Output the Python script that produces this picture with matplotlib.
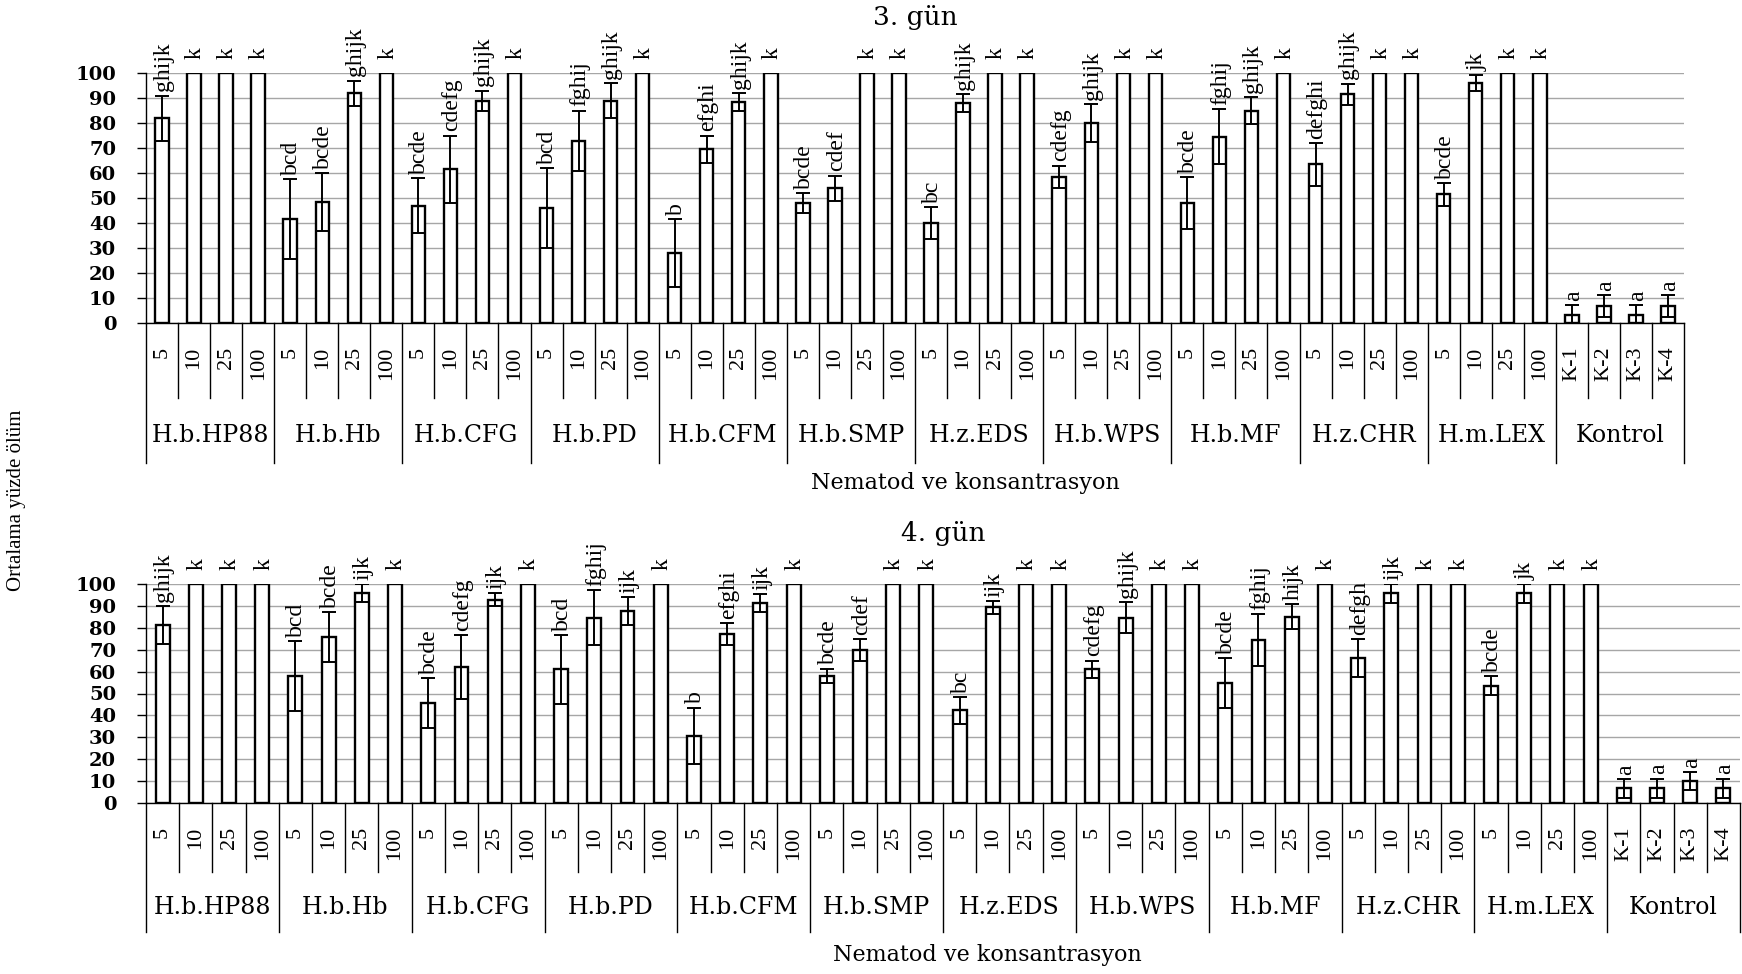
import numpy as np
import matplotlib
matplotlib.use('Agg')
from matplotlib import pyplot as plt

plt.rcParams['font.family'] = ['DejaVu Serif']

groups = ["H.b.HP88", "H.b.Hb", "H.b.CFG", "H.b.PD", "H.b.CFM", "H.b.SMP",
          "H.z.EDS", "H.b.WPS", "H.b.MF", "H.z.CHR", "H.m.LEX", "Kontrol"]
conc = ["5", "10", "25", "100"]
kontrol = ["K-1", "K-2", "K-3", "K-4"]
tick_labels = conc * 11 + kontrol

# 3. gun
gun3_mean = [82, 100, 100, 100,
             41.5, 48.5, 92, 100,
             47, 61.5, 89, 100,
             46, 73, 89, 100,
             28, 69.5, 88.5, 100,
             48, 54, 100, 100,
             40, 88, 100, 100,
             58.5, 80, 100, 100,
             48, 74.5, 85, 100,
             63.5, 91.5, 100, 100,
             51.5, 96, 100, 100,
             3.33, 6.67, 3.33, 6.67]
gun3_err = [9, 0, 0, 0,
            16, 11.5, 5, 0,
            11, 13.5, 4, 0,
            16, 12, 7, 0,
            13.5, 5.5, 3.5, 0,
            4, 5, 0, 0,
            6.5, 3.5, 0, 0,
            4.5, 7.5, 0, 0,
            10.5, 11, 5.5, 0,
            8.5, 4.3, 0, 0,
            4.5, 3.3, 0, 0,
            4, 4.4, 4, 4.4]
gun3_harf = ["ghijk", "k", "k", "k",
             "bcd", "bcde", "ghijk", "k",
             "bcde", "cdefg", "ghijk", "k",
             "bcd", "fghij", "ghijk", "k",
             "b", "efghi", "ghijk", "k",
             "bcde", "cdef", "k", "k",
             "bc", "ghijk", "k", "k",
             "cdefg", "ghijk", "k", "k",
             "bcde", "fghij", "ghijk", "k",
             "defghi", "ghijk", "k", "k",
             "bcde", "jk", "k", "k",
             "a", "a", "a", "a"]

# 4. gun
gun4_mean = [81.3, 100, 100, 100,
             58, 75.8, 96, 100,
             45.6, 62.2, 92.8, 100,
             61, 84.7, 87.7, 100,
             30.6, 77, 91.3, 100,
             58, 69.7, 100, 100,
             42.3, 89.3, 100, 100,
             61, 84.7, 100, 100,
             54.8, 74.4, 85.1, 100,
             66.3, 95.7, 100, 100,
             53.6, 95.7, 100, 100,
             6.67, 6.67, 10, 6.67]
gun4_err = [8.7, 0, 0, 0,
            16, 11.5, 4, 0,
            11.5, 14.5, 3, 0,
            15.8, 12.5, 6.5, 0,
            13, 5, 4, 0,
            3.4, 5, 0, 0,
            6, 3, 0, 0,
            4, 7, 0, 0,
            11.5, 11.7, 5.7, 0,
            8.7, 4.3, 0, 0,
            4.3, 4.3, 0, 0,
            4.2, 4.5, 4, 4.5]
gun4_harf = ["ghijk", "k", "k", "k",
             "bcd", "bcde", "ijk", "k",
             "bcde", "cdefg", "ijk", "k",
             "bcd", "fghij", "ijk", "k",
             "b", "efghi", "ijk", "k",
             "bcde", "cdef", "k", "k",
             "bc", "ijk", "k", "k",
             "cdefg", "ghijk", "k", "k",
             "bcde", "fghij", "hijk", "k",
             "defgh", "ijk", "k", "k",
             "bcde", "jk", "k", "k",
             "a", "a", "a", "a"]


def panel(ax, means, errs, harf, small_d, group_d, label_d):
    x = np.arange(len(means))
    means = np.array(means)
    errs = np.array(errs)
    ax.bar(x, means, width=0.42, color='white', edgecolor='black', linewidth=1.7, zorder=3)
    m = errs > 0
    ax.errorbar(x[m], means[m], yerr=errs[m], fmt='none', ecolor='black',
                elinewidth=1.4, capsize=4.8, capthick=1.4, zorder=4)

    ax.set_xlim(-0.5, len(means) - 0.5)
    ax.set_ylim(0, 100)
    ax.set_yticks(range(0, 101, 10))
    ax.yaxis.grid(True, color='#a6a6a6', lw=1.0)
    ax.set_axisbelow(True)
    for s in ['top', 'right']:
        ax.spines[s].set_visible(False)
    ax.spines['left'].set_linewidth(1.0)
    ax.spines['bottom'].set_linewidth(1.0)
    ax.tick_params(axis='y', direction='out', length=6.5, width=1, pad=15, labelsize=14)
    for lab in ax.get_yticklabels():
        lab.set_fontweight('bold')
    ax.set_xticks(x)
    ax.set_xticklabels(tick_labels, rotation=90, fontfamily='Liberation Serif', fontsize=16)
    ax.tick_params(axis='x', length=0, pad=17)

    # harfler
    for i in range(len(means)):
        top = means[i] + errs[i]
        off = 3 if errs[i] > 0 else 10
        ax.annotate(harf[i], (i, top), xytext=(1, off), textcoords='offset points',
                    rotation=90, ha='center', va='bottom', fontfamily='Liberation Serif',
                    fontsize=17, annotation_clip=False)

    # ayirici cizgiler
    trans = ax.get_xaxis_transform()
    for k in range(len(means) + 1):
        b = k - 0.5
        d = group_d if k % 4 == 0 else small_d
        ax.plot([b, b], [0, -d], transform=trans, color='black', lw=1.0, clip_on=False)
    for gi, g in enumerate(groups):
        ax.text(gi * 4 + 1.5, -label_d, g, transform=trans, ha='center', va='center', fontsize=17)


fig = plt.figure(figsize=(17.42, 9.74), dpi=100)
ax1 = fig.add_axes([146 / 1742, 1 - 323 / 974, (1684 - 146) / 1742, 250 / 974])
ax2 = fig.add_axes([146 / 1742, 1 - 803 / 974, (1740 - 146) / 1742, 219 / 974])

panel(ax1, gun3_mean, gun3_err, gun3_harf, 0.30, 0.56, 0.448)
panel(ax2, gun4_mean, gun4_err, gun4_harf, 0.315, 0.589, 0.479)

fig.text(915 / 1742, 1 - 17 / 974, "3. gün", ha='center', va='center', fontsize=19)
fig.text(943 / 1742, 1 - 533 / 974, "4. gün", ha='center', va='center', fontsize=19)
fig.text(965 / 1742, 1 - 483 / 974, "Nematod ve konsantrasyon", ha='center', va='center', fontsize=16)
fig.text(987 / 1742, 1 - 955 / 974, "Nematod ve konsantrasyon", ha='center', va='center', fontsize=16)
fig.text(17 / 1742, 1 - 500 / 974, "Ortalama yüzde ölüm", rotation=90, ha='center', va='center',
         fontfamily='Liberation Serif', fontsize=15)

plt.savefig('out.png', dpi=100)
